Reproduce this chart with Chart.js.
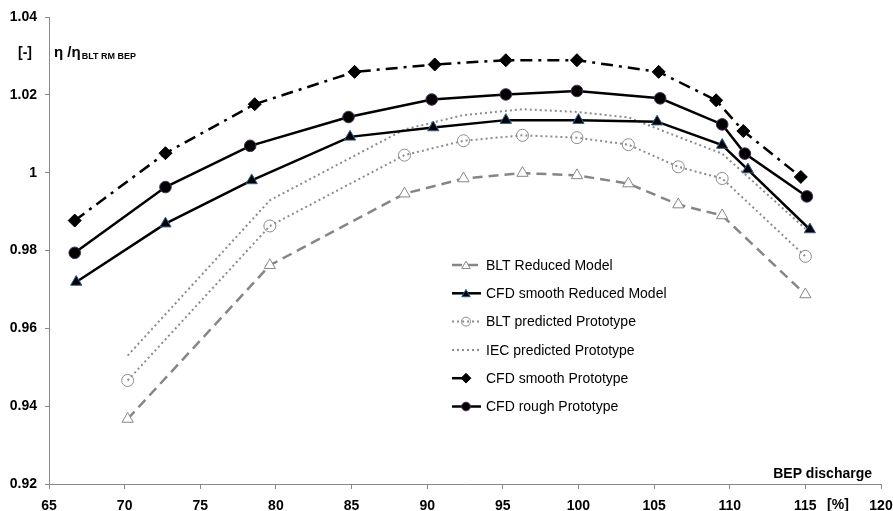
<!DOCTYPE html>
<html><head><meta charset="utf-8">
<script src="https://cdn.jsdelivr.net/npm/chart.js@4.4.1/dist/chart.umd.min.js"></script>
<style>html,body{margin:0;padding:0;background:#fff}#wrap{width:893px;height:511px}</style>
</head><body><div id="wrap"><canvas id="c" width="893" height="511"></canvas></div>
<script>
// ---- data ----
const seriesNames = ['BLT Reduced Model','CFD smooth Reduced Model','BLT predicted Prototype','IEC predicted Prototype','CFD smooth Prototype','CFD rough Prototype'];
const bltX        = [70.2, 79.6, 88.5, 92.4, 96.3, 99.9, 103.3, 106.6, 109.5, 115.0];
const bltRM       = [0.9367, 0.9762, 0.9946, 0.9985, 0.9999, 0.9993, 0.9972, 0.9918, 0.9890, 0.9687];
const bltProto    = [0.9466, 0.9863, 1.0045, 1.0082, 1.0096, 1.0090, 1.0072, 1.0015, 0.9985, 0.9785];
const iecProto    = [0.9530, 0.9929, 1.0111, 1.0148, 1.0163, 1.0156, 1.0142, 1.0092, 1.0049, 0.9856];
const cfdRMX      = [66.8, 72.7, 78.4, 84.9, 90.4, 95.2, 100.0, 105.2, 109.5, 111.2, 115.3];
const cfdRM       = [0.9719, 0.9869, 0.9980, 1.0092, 1.0116, 1.0135, 1.0135, 1.0131, 1.0071, 1.0008, 0.9854];
const cfdProtoX   = [66.7, 72.7, 78.6, 85.2, 90.5, 95.2, 99.9, 105.3, 109.1, 110.9, 114.7];
const cfdProto    = [0.9877, 1.0050, 1.0176, 1.0259, 1.0278, 1.0289, 1.0289, 1.0259, 1.0186, 1.0107, 0.9989];
const cfdRoughX   = [66.7, 72.7, 78.3, 84.8, 90.3, 95.2, 99.9, 105.4, 109.5, 111.0, 115.1];
const cfdRough    = [0.9794, 0.9963, 1.0069, 1.0143, 1.0188, 1.0201, 1.0210, 1.0191, 1.0124, 1.0049, 0.9939];
const xTicks = {min: 65, max: 120, step: 5};
const yTicks = {min: 0.92, max: 1.04, step: 0.02};

const FONT = '"Liberation Sans", Arial, sans-serif';
function pts(xs, ys){ return xs.map((x,i)=>({x:x, y:ys[i]})); }

const datasets = [
  {label: seriesNames[0], data: pts(bltX, bltRM), borderColor:'#868686', borderWidth:2.5, borderDash:[10,6],
   pointStyle:'triangle', pointRadius:6.5, pointBackgroundColor:'#fff', pointBorderColor:'#868686', pointBorderWidth:1},
  {label: seriesNames[1], data: pts(cfdRMX, cfdRM), borderColor:'#000', borderWidth:2.5,
   pointStyle:'triangle', pointRadius:6.5, pointBackgroundColor:'#000', pointBorderColor:'#2F5F8F', pointBorderWidth:1},
  {label: seriesNames[2], data: pts(bltX, bltProto), borderColor:'#8c8c8c', borderWidth:2, borderDash:[2,3],
   pointStyle:'circle', pointRadius:6, pointBackgroundColor:'rgba(255,255,255,0)', pointBorderColor:'#8c8c8c', pointBorderWidth:1},
  {label: seriesNames[3], data: pts(bltX, iecProto), borderColor:'#8c8c8c', borderWidth:2, borderDash:[2,3],
   pointRadius:0, pointStyle:false},
  {label: seriesNames[4], data: pts(cfdProtoX, cfdProto), borderColor:'#000', borderWidth:2.5, borderDash:[12,6,3,6],
   pointStyle:'rectRot', pointRadius:6.5, pointBackgroundColor:'#000', pointBorderColor:'#000', pointBorderWidth:1},
  {label: seriesNames[5], data: pts(cfdRoughX, cfdRough), borderColor:'#000', borderWidth:2.5,
   pointStyle:'circle', pointRadius:5.8, pointBackgroundColor:'#000', pointBorderColor:'#4a2a5a', pointBorderWidth:1}
];
datasets.forEach(d => { d.tension = 0; d.fill = false; d.borderCapStyle = 'butt'; d.pointHoverRadius = d.pointRadius; });

function drawMarker(ctx, style, r, x, y){
  ctx.beginPath();
  if (style === 'triangle') {
    ctx.moveTo(x, y - r); ctx.lineTo(x + r*0.866, y + r*0.5); ctx.lineTo(x - r*0.866, y + r*0.5); ctx.closePath();
  } else if (style === 'circle') {
    ctx.arc(x, y, r, 0, Math.PI*2);
  } else if (style === 'rectRot') {
    const s = r;
    ctx.moveTo(x, y - s); ctx.lineTo(x + s, y); ctx.lineTo(x, y + s); ctx.lineTo(x - s, y); ctx.closePath();
  }
  ctx.fill(); ctx.stroke();
}

const legendPlugin = {
  id: 'customLegend',
  afterDraw(chart){
    const ctx = chart.ctx;
    ctx.save();
    const x0 = 452, x1 = 481, tx = 486, y0 = 265, dy = 28.3;
    chart.data.datasets.forEach((d, i) => {
      const y = y0 + dy * i;
      ctx.save();
      ctx.strokeStyle = d.borderColor; ctx.lineWidth = d.borderWidth;
      ctx.setLineDash(d.borderDash || []);
      ctx.beginPath(); ctx.moveTo(x0, y); ctx.lineTo(i === 4 ? 470 : x1, y); ctx.stroke();
      ctx.setLineDash([]);
      if (d.pointStyle && d.pointRadius > 0) {
        ctx.fillStyle = d.pointBackgroundColor; ctx.strokeStyle = d.pointBorderColor; ctx.lineWidth = d.pointBorderWidth;
        drawMarker(ctx, d.pointStyle, d.pointRadius * 0.75, 466, y + (d.pointStyle === 'triangle' ? 1 : 0));
      }
      ctx.restore();
      ctx.fillStyle = '#000'; ctx.font = '14px ' + FONT; ctx.textBaseline = 'middle'; ctx.textAlign = 'left';
      ctx.fillText(d.label, tx, y + 1);
    });
    // axis titles
    ctx.fillStyle = '#000';
    ctx.textBaseline = 'alphabetic';
    ctx.font = 'bold 14px ' + FONT;
    ctx.textAlign = 'left';
    ctx.fillText('[-]', 18, 57);
    ctx.font = 'bold 15px ' + FONT;
    ctx.fillText('η /η', 54, 57);
    const w = ctx.measureText('η /η').width;
    ctx.font = 'bold 9px ' + FONT;
    ctx.fillText('BLT RM BEP', 54 + w + 1, 59);
    ctx.font = 'bold 14px ' + FONT;
    ctx.textAlign = 'right';
    ctx.fillText('BEP discharge', 872, 478);
    ctx.textAlign = 'center';
    ctx.textBaseline = 'middle';
    ctx.fillText('[%]', 838, 505);
    ctx.restore();
  }
};

new Chart(document.getElementById('c'), {
  type: 'line',
  data: { datasets: datasets },
  plugins: [legendPlugin],
  options: {
    responsive: false,
    animation: false,
    events: [],
    layout: { padding: { top: 17, right: 0, left: 0, bottom: 0 } },
    plugins: { legend: { display: false }, tooltip: { enabled: false }, title: { display: false } },
    scales: {
      x: {
        type: 'linear', min: xTicks.min, max: xTicks.max,
        ticks: { stepSize: xTicks.step, color: '#000', font: { family: FONT, size: 14, weight: 'bold' }, padding: 9, maxRotation: 0,
                 callback: v => String(v) },
        grid: { drawOnChartArea: false, drawTicks: true, tickLength: 5, color: '#888' },
        border: { color: '#888', width: 1 },
        afterFit: s => { s.height = 27; s.paddingRight = 12; s.paddingLeft = 0; }
      },
      y: {
        type: 'linear', min: yTicks.min, max: yTicks.max,
        ticks: { stepSize: yTicks.step, color: '#000', font: { family: FONT, size: 14, weight: 'bold' }, padding: 8,
                 callback: v => String(parseFloat(v.toFixed(2))) },
        grid: { drawOnChartArea: false, drawTicks: true, tickLength: 4, color: '#888' },
        border: { color: '#888', width: 1 },
        afterFit: s => { s.width = 49; s.paddingTop = 0; s.paddingBottom = 0; }
      }
    }
  }
});
</script>
</body></html>
